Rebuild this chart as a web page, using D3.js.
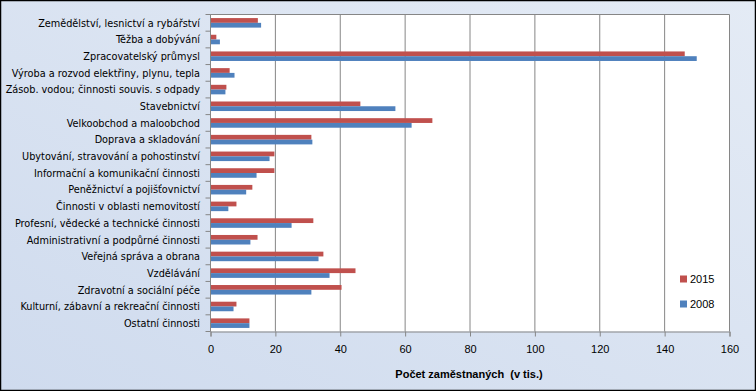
<!DOCTYPE html>
<html><head><meta charset="utf-8">
<script src="https://cdn.jsdelivr.net/npm/d3@7"></script>
<style>html,body{margin:0;padding:0;background:#fff}svg{display:block}</style>
</head><body>
<script>
const categories = ["Zemědělství, lesnictví a rybářství","Těžba a dobývání","Zpracovatelský průmysl","Výroba a rozvod elektřiny, plynu, tepla","Zásob. vodou; činnosti souvis. s odpady","Stavebnictví","Velkoobchod a maloobchod","Doprava a skladování","Ubytování, stravování a pohostinství","Informační a komunikační činnosti","Peněžnictví a pojišťovnictví","Činnosti v oblasti nemovitostí","Profesní, vědecké a technické činnosti","Administrativní a podpůrné činnosti","Veřejná správa a obrana","Vzdělávání","Zdravotní a sociální péče","Kulturní, zábavní a rekreační činnosti","Ostatní činnosti"];
const values2015 = [14.6,1.8,146.2,5.9,4.9,46.2,68.4,31.1,19.7,19.7,12.9,8.0,31.7,14.5,34.8,44.7,40.4,8.0,12.0];
const values2008 = [15.6,2.9,149.9,7.4,4.6,57.0,62.0,31.4,18.2,14.2,11.0,5.5,25.0,12.3,33.3,36.7,31.1,7.1,12.0];
const seriesNames = ["2015","2008"];
const xTicks = [0,20,40,60,80,100,120,140,160];
const axisTitle = "Počet zaměstnaných  (v tis.)";
const colors = {"2015":"#c0504d","2008":"#4f81bd"};

const W=756,H=391;
const svg=d3.select("body").append("svg").attr("width",W).attr("height",H);
const defs=svg.append("defs");
const g=defs.append("linearGradient").attr("id","bg").attr("x1","100%").attr("y1","0%").attr("x2","0%").attr("y2","100%");
g.append("stop").attr("offset","0%").attr("stop-color","#e4ebf5");
g.append("stop").attr("offset","100%").attr("stop-color","#cfdbee");
svg.append("rect").attr("x",0.5).attr("y",0.5).attr("width",W-1).attr("height",H-1).attr("fill","url(#bg)").attr("stroke","#000").attr("stroke-width",1.5);

const L=210.5,R=729.5,T=14.5,B=331.5;
const x=d3.scaleLinear().domain([0,160]).range([L,R]);
const y=d3.scaleBand().domain(categories).range([T,B]);
const bw=y.bandwidth()/3.5;
const labelFont="'Liberation Sans Narrow','DejaVu Sans Condensed','Liberation Sans',Arial,sans-serif";

svg.append("rect").attr("x",L).attr("y",T).attr("width",R-L).attr("height",B-T).attr("fill","#fff");
svg.append("g").selectAll("line").data(xTicks).join("line")
  .attr("x1",d=>x(d)).attr("x2",d=>x(d)).attr("y1",T).attr("y2",B)
  .attr("stroke","#868686").attr("stroke-width",1);
svg.append("line").attr("x1",L).attr("x2",R).attr("y1",T).attr("y2",T).attr("stroke","#868686");

const series=[values2015,values2008];
series.forEach((vals,si)=>{
  svg.append("g").selectAll("rect").data(categories).join("rect")
    .attr("x",x(0)).attr("y",(d)=>y(d)+bw*0.75+si*bw)
    .attr("width",(d,i)=>x(vals[i])-x(0)).attr("height",bw)
    .attr("fill",colors[seriesNames[si]]);
});

const xa=svg.append("g").attr("transform",`translate(0,${B})`)
  .call(d3.axisBottom(x).tickValues(xTicks).tickSize(5).tickPadding(9));
xa.select(".domain").attr("stroke","#868686");
xa.selectAll(".tick line").attr("stroke","#868686");
xa.selectAll("text").attr("font-family","'Liberation Sans',Arial,sans-serif").attr("font-size","11px").attr("fill","#000");

const yTickPos=categories.map(c=>y(c)).concat([B]);
svg.append("line").attr("x1",L).attr("x2",L).attr("y1",T).attr("y2",B).attr("stroke","#868686");
svg.append("g").selectAll("line").data(yTickPos).join("line")
  .attr("x1",L-5).attr("x2",L).attr("y1",d=>d).attr("y2",d=>d).attr("stroke","#868686");
svg.append("g").selectAll("text").data(categories).join("text")
  .attr("x",200).attr("y",d=>y(d)+y.bandwidth()/2).attr("dy","0.35em")
  .attr("text-anchor","end").attr("font-family",labelFont).attr("font-size","10.8px")
  .attr("fill","#000").text(d=>d);

svg.append("text").attr("x",(L+R)/2 - 1).attr("y",378).attr("text-anchor","middle")
  .style("white-space","pre")
  .attr("font-family","'Liberation Sans',Arial,sans-serif").attr("font-size","11px").attr("font-weight","bold").text(axisTitle);

const lg=svg.append("g");
seriesNames.forEach((s,i)=>{
  const yy=279+i*25;
  lg.append("rect").attr("x",680).attr("y",yy-3.5).attr("width",7).attr("height",7).attr("fill",colors[s]);
  lg.append("text").attr("x",690).attr("y",yy).attr("dy","0.35em").attr("font-family","'Liberation Sans',Arial,sans-serif").attr("font-size","11px").text(s);
});
</script>
</body></html>
